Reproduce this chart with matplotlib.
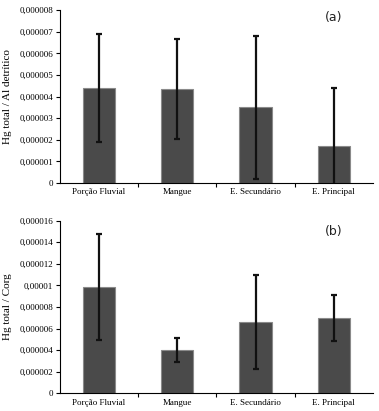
import matplotlib.pyplot as plt
import numpy as np
from matplotlib.ticker import FuncFormatter

# categories and values
sites = ['Porção Fluvial', 'Mangue', 'E. Secundário', 'E. Principal']
hg_al = [4.4e-6, 4.35e-6, 3.5e-6, 1.72e-6]
hg_al_err = [2.5e-6, 2.32e-6, 3.3e-6, 2.68e-6]
hg_corg = [9.85e-6, 3.98e-6, 6.6e-6, 7.0e-6]
hg_corg_err = [4.95e-6, 1.12e-6, 4.35e-6, 2.15e-6]

serif = 'Liberation Serif'


def fmt(v, pos):
    if abs(v) < 1e-12:
        return '0'
    s = '%.6f' % v
    s = s.rstrip('0')
    return s.replace('.', ',')


def panel(ax, vals, errs, ymax, step, ylabel, tag, tag_y):
    x = np.arange(len(sites))
    ax.bar(x, vals, width=0.41, color='#4a4a4a', edgecolor='#8a8a8a', linewidth=0.8, zorder=2)
    ax.errorbar(x, vals, yerr=errs, fmt='none', ecolor='#111111', elinewidth=1.6,
                capsize=2, capthick=1.6, zorder=3)
    ax.set_xlim(-0.5, 3.5)
    ax.set_ylim(0, ymax)
    ax.set_yticks(np.arange(0, ymax + step / 2, step))
    ax.yaxis.set_major_formatter(FuncFormatter(fmt))
    ax.set_xticks(x)
    ax.set_xticklabels(sites, fontfamily=serif, fontsize=6.5)
    ax.set_xticks([0.5, 1.5, 2.5], minor=True)
    ax.tick_params(axis='x', which='major', length=0, pad=4)
    ax.tick_params(axis='x', which='minor', length=3, direction='out', width=0.8)
    ax.tick_params(axis='y', length=3, width=0.8, labelsize=6.5, pad=2)
    for lab in ax.get_yticklabels():
        lab.set_fontfamily(serif)
    ax.spines['top'].set_visible(False)
    ax.spines['right'].set_visible(False)
    ax.spines['left'].set_linewidth(0.8)
    ax.spines['bottom'].set_linewidth(0.8)
    ax.set_ylabel(ylabel, fontfamily=serif, fontsize=8, labelpad=5)
    ax.text(0.875, tag_y, tag, transform=ax.transAxes, fontsize=9,
            fontfamily='DejaVu Sans', ha='center', va='center', color='#222222')


fig = plt.figure(figsize=(3.79, 4.11), dpi=100)
ax1 = fig.add_axes([0.158, 0.555, 0.826, 0.42])
ax2 = fig.add_axes([0.158, 0.043, 0.826, 0.42])

panel(ax1, hg_al, hg_al_err, 8e-6, 1e-6, 'Hg total / Al detrítico', '(a)', 0.96)
panel(ax2, hg_corg, hg_corg_err, 16e-6, 2e-6, 'Hg total / Corg', '(b)', 0.935)

fig.savefig('out.png', dpi=100)
